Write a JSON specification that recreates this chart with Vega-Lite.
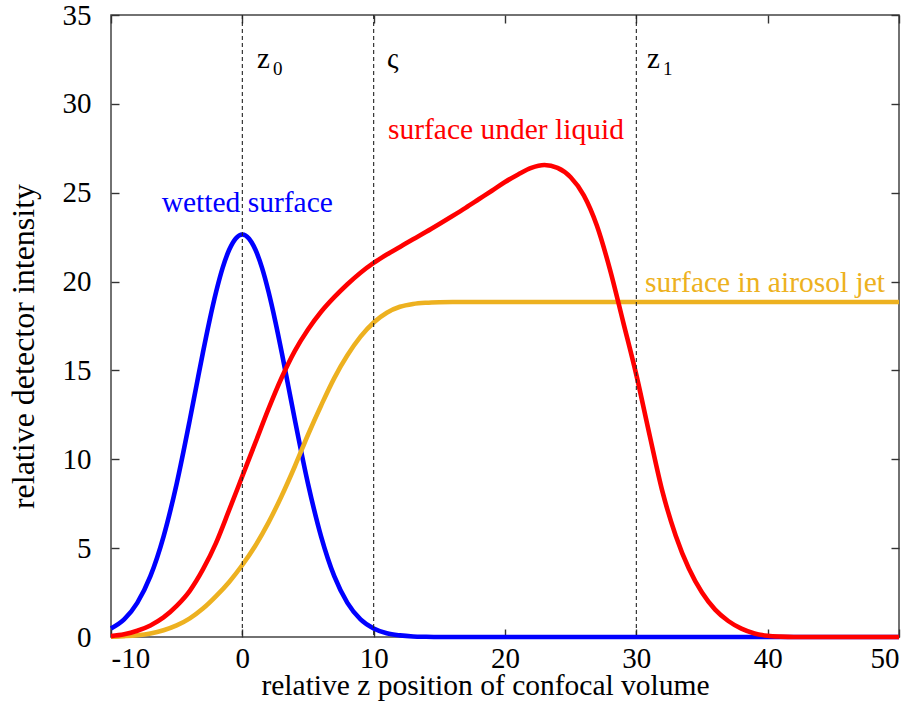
{
  "$schema": "https://vega.github.io/schema/vega-lite/v6.json",
  "autosize": "none",
  "width": 788,
  "height": 622,
  "padding": {"left": 111, "top": 15, "right": 17, "bottom": 64},
  "background": "white",
  "config": {
    "view": {"stroke": "#444444", "strokeWidth": 1.5},
    "font": "Liberation Serif",
    "axis": {
      "grid": false,
      "domain": false,
      "ticks": true,
      "labelFont": "Liberation Serif",
      "labelFontSize": 29,
      "labelColor": "black",
      "titleFont": "Liberation Serif",
      "titleFontWeight": "normal",
      "titleColor": "black",
      "tickColor": "#333333",
      "tickWidth": 1.4,
      "tickSize": -8
    },
    "text": {"font": "Liberation Serif"}
  },
  "datasets": {
    "blue": [
      {"x": -10, "y": 0.48}, {"x": -9, "y": 0.99}, {"x": -8, "y": 1.92}, {"x": -7, "y": 3.42},
      {"x": -6, "y": 5.65}, {"x": -5, "y": 8.63}, {"x": -4, "y": 12.22}, {"x": -3.5, "y": 14.12},
      {"x": -3, "y": 16.01}, {"x": -2.5, "y": 17.8}, {"x": -2, "y": 19.41}, {"x": -1.5, "y": 20.77},
      {"x": -1, "y": 21.79}, {"x": -0.5, "y": 22.43}, {"x": 0, "y": 22.65}, {"x": 0.5, "y": 22.43},
      {"x": 1, "y": 21.79}, {"x": 1.5, "y": 20.77}, {"x": 2, "y": 19.41}, {"x": 2.5, "y": 17.8},
      {"x": 3, "y": 16.01}, {"x": 3.5, "y": 14.12}, {"x": 4, "y": 12.22}, {"x": 5, "y": 8.63},
      {"x": 6, "y": 5.65}, {"x": 7, "y": 3.42}, {"x": 8, "y": 1.92}, {"x": 9, "y": 0.99},
      {"x": 10, "y": 0.48}, {"x": 11, "y": 0.21}, {"x": 12, "y": 0.09}, {"x": 13, "y": 0.03},
      {"x": 14, "y": 0.01}, {"x": 15, "y": 0}, {"x": 20, "y": 0}, {"x": 30, "y": 0},
      {"x": 40, "y": 0}, {"x": 50, "y": 0}
    ],
    "red": [
      {"x": -10, "y": 0.05}, {"x": -9, "y": 0.15}, {"x": -8, "y": 0.35}, {"x": -7, "y": 0.65},
      {"x": -6, "y": 1.1}, {"x": -5, "y": 1.75}, {"x": -4, "y": 2.6}, {"x": -3, "y": 3.8},
      {"x": -2, "y": 5.3}, {"x": -1, "y": 7.15}, {"x": 0, "y": 9.05}, {"x": 1, "y": 10.95},
      {"x": 2, "y": 12.85}, {"x": 3, "y": 14.6}, {"x": 4, "y": 16.1}, {"x": 5, "y": 17.3},
      {"x": 6, "y": 18.3}, {"x": 7, "y": 19.12}, {"x": 8, "y": 19.85}, {"x": 9, "y": 20.5},
      {"x": 10, "y": 21.05}, {"x": 11, "y": 21.52}, {"x": 12, "y": 21.95}, {"x": 13, "y": 22.38},
      {"x": 14, "y": 22.8}, {"x": 15, "y": 23.24}, {"x": 16, "y": 23.69}, {"x": 17, "y": 24.15},
      {"x": 18, "y": 24.63}, {"x": 19, "y": 25.11}, {"x": 20, "y": 25.6}, {"x": 21, "y": 26.03},
      {"x": 22, "y": 26.4}, {"x": 23, "y": 26.56}, {"x": 24, "y": 26.4}, {"x": 25, "y": 25.87},
      {"x": 26, "y": 24.85}, {"x": 27, "y": 23.14}, {"x": 28, "y": 20.66}, {"x": 29, "y": 17.72},
      {"x": 30, "y": 14.75}, {"x": 31, "y": 11.4}, {"x": 32, "y": 8.15}, {"x": 33, "y": 5.7},
      {"x": 34, "y": 3.85}, {"x": 35, "y": 2.5}, {"x": 36, "y": 1.54}, {"x": 37, "y": 0.9},
      {"x": 38, "y": 0.47}, {"x": 39, "y": 0.2}, {"x": 40, "y": 0.07}, {"x": 41, "y": 0.02},
      {"x": 42, "y": 0}, {"x": 50, "y": 0}
    ],
    "orange": [
      {"x": -10, "y": 0.02}, {"x": -9, "y": 0.05}, {"x": -8, "y": 0.1}, {"x": -7, "y": 0.2},
      {"x": -6, "y": 0.38}, {"x": -5, "y": 0.65}, {"x": -4, "y": 1.05}, {"x": -3, "y": 1.6},
      {"x": -2, "y": 2.3}, {"x": -1, "y": 3.1}, {"x": 0, "y": 4.05}, {"x": 1, "y": 5.15},
      {"x": 2, "y": 6.45}, {"x": 3, "y": 7.95}, {"x": 4, "y": 9.61}, {"x": 5, "y": 11.38},
      {"x": 6, "y": 13.03}, {"x": 7, "y": 14.57}, {"x": 8, "y": 15.85}, {"x": 9, "y": 16.9},
      {"x": 10, "y": 17.7}, {"x": 11, "y": 18.25}, {"x": 12, "y": 18.58}, {"x": 13, "y": 18.74},
      {"x": 14, "y": 18.81}, {"x": 15, "y": 18.84}, {"x": 16, "y": 18.85},
      {"x": 30, "y": 18.85}, {"x": 50, "y": 18.85}
    ],
    "vlines": [{"x": 0}, {"x": 10}, {"x": 30}],
    "labels": [
      {"x": 1.12, "y": 32.02, "t": "z", "k": "black"},
      {"x": 11.02, "y": 32.02, "t": "ς", "k": "black"},
      {"x": 30.81, "y": 32.02, "t": "z", "k": "black"},
      {"x": 2.34, "y": 31.63, "t": "0", "k": "sub"},
      {"x": 32.03, "y": 31.63, "t": "1", "k": "sub"},
      {"x": 11.09, "y": 28.02, "t": "surface under liquid", "k": "red"},
      {"x": -6.14, "y": 23.9, "t": "wetted surface", "k": "blue"},
      {"x": 30.66, "y": 19.43, "t": "surface in airosol jet", "k": "orange"}
    ]
  },
  "layer": [
    {
      "data": {"name": "blue"},
      "mark": {"type": "line", "color": "#0000FF", "strokeWidth": 4.6, "interpolate": "monotone"},
      "encoding": {
        "x": {"field": "x", "type": "quantitative", "scale": {"domain": [-10, 50], "nice": false, "zero": false},
          "axis": {"orient": "bottom", "values": [-10, 0, 10, 20, 30, 40, 50], "labelExpr": "'' + datum.value", "title": "relative z position of confocal volume",
            "tickSize": -8, "titleFontSize": 29.5, "labelPadding": 15, "titleX": 374, "titleY": 57, "titleBaseline": "alphabetic", "titleAlign": "center"}},
        "y": {"field": "y", "type": "quantitative", "scale": {"domain": [0, 35], "nice": false},
          "axis": {"orient": "left", "values": [0, 5, 10, 15, 20, 25, 30, 35], "title": "relative detector intensity",
            "tickSize": -8, "titleFontSize": 32, "labelPadding": 28, "titleX": -78, "titleY": 331, "titleBaseline": "alphabetic", "titleAlign": "center", "titleAngle": -90}}
      }
    },
    {
      "data": {"name": "orange"},
      "mark": {"type": "line", "color": "#EDB120", "strokeWidth": 4.6, "interpolate": "monotone"},
      "encoding": {
        "x": {"field": "x", "type": "quantitative",
          "axis": {"orient": "top", "values": [-10, 0, 10, 20, 30, 40, 50], "tickSize": -8, "labels": false, "title": null}},
        "y": {"field": "y", "type": "quantitative",
          "axis": {"orient": "right", "values": [0, 5, 10, 15, 20, 25, 30, 35], "tickSize": -8, "labels": false, "title": null}}
      }
    },
    {
      "data": {"name": "red"},
      "mark": {"type": "line", "color": "#FF0000", "strokeWidth": 4.6, "interpolate": "monotone"},
      "encoding": {
        "x": {"field": "x", "type": "quantitative", "axis": null},
        "y": {"field": "y", "type": "quantitative", "axis": null}
      }
    },
    {
      "data": {"name": "vlines"},
      "mark": {"type": "rule", "color": "#222222", "strokeWidth": 1.1, "strokeDash": [4, 3]},
      "encoding": {
        "x": {"field": "x", "type": "quantitative", "axis": null}
      }
    },
    {
      "data": {"name": "labels"},
      "transform": [{"filter": "datum.k === 'black'"}],
      "mark": {"type": "text", "color": "black", "fontSize": 29, "align": "left", "baseline": "alphabetic"},
      "encoding": {
        "x": {"field": "x", "type": "quantitative", "axis": null},
        "y": {"field": "y", "type": "quantitative", "axis": null},
        "text": {"field": "t"}
      }
    },
    {
      "data": {"name": "labels"},
      "transform": [{"filter": "datum.k === 'sub'"}],
      "mark": {"type": "text", "color": "black", "fontSize": 19, "align": "left", "baseline": "alphabetic"},
      "encoding": {
        "x": {"field": "x", "type": "quantitative", "axis": null},
        "y": {"field": "y", "type": "quantitative", "axis": null},
        "text": {"field": "t"}
      }
    },
    {
      "data": {"name": "labels"},
      "transform": [{"filter": "datum.k === 'red'"}],
      "mark": {"type": "text", "color": "#FF0000", "fontSize": 29.5, "align": "left", "baseline": "alphabetic"},
      "encoding": {
        "x": {"field": "x", "type": "quantitative", "axis": null},
        "y": {"field": "y", "type": "quantitative", "axis": null},
        "text": {"field": "t"}
      }
    },
    {
      "data": {"name": "labels"},
      "transform": [{"filter": "datum.k === 'blue'"}],
      "mark": {"type": "text", "color": "#0000FF", "fontSize": 29.5, "align": "left", "baseline": "alphabetic"},
      "encoding": {
        "x": {"field": "x", "type": "quantitative", "axis": null},
        "y": {"field": "y", "type": "quantitative", "axis": null},
        "text": {"field": "t"}
      }
    },
    {
      "data": {"name": "labels"},
      "transform": [{"filter": "datum.k === 'orange'"}],
      "mark": {"type": "text", "color": "#EDB120", "fontSize": 29.5, "align": "left", "baseline": "alphabetic"},
      "encoding": {
        "x": {"field": "x", "type": "quantitative", "axis": null},
        "y": {"field": "y", "type": "quantitative", "axis": null},
        "text": {"field": "t"}
      }
    }
  ]
}
